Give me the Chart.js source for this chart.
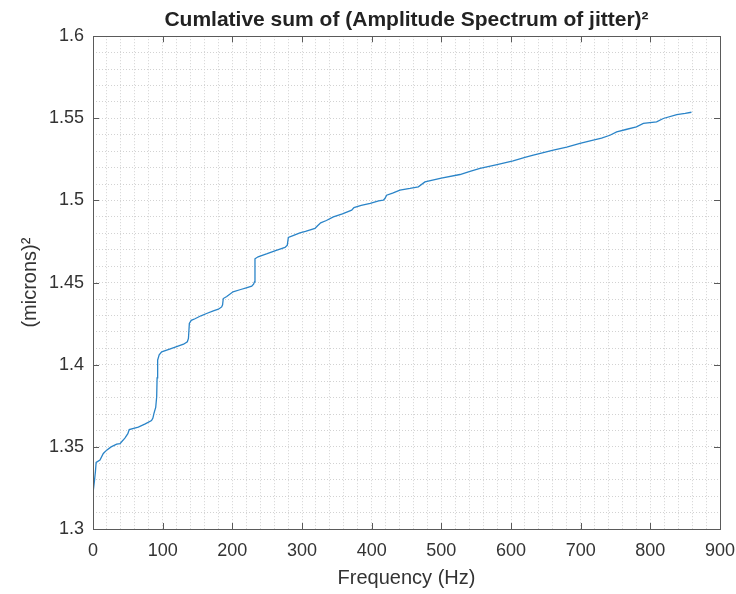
<!DOCTYPE html>
<html>
<head>
<meta charset="utf-8">
<script src="https://cdn.jsdelivr.net/npm/chart.js@4/dist/chart.umd.min.js"></script>
<style>
  html, body { margin: 0; padding: 0; background: #fff; }
  #chart { display: block; }
</style>
</head>
<body>
<canvas id="chart" width="736" height="594"></canvas>
<script>
// frequency (Hz) and cumulative sum values
const freqHz = [
  0, 2, 3.5, 4.5, 10, 14.8, 19.6, 26, 34, 38.8, 43, 46, 50, 52, 65, 75, 84, 86, 87.5, 90,
  91.4, 92, 92.8, 95, 98.6, 110, 120, 130, 135.4, 137, 138.3, 141, 146.4, 155, 163, 172.7, 180, 184.7, 186, 187,
  192, 201, 212, 220, 227.8, 230.5, 231.8, 232.5, 237, 250, 262, 275.6, 278.9, 280.4, 288, 297, 305, 318.6, 322, 326.8,
  335, 345, 358, 371.3, 374.6, 385, 398, 410, 416.7, 419, 421.5, 430, 440.6, 455, 467, 476.5, 500, 526.8, 540, 555.5,
  580, 603, 620, 632, 645, 660.7, 680, 699, 718, 730, 742, 751.7, 765, 780, 790, 809, 818.6, 838, 850, 859
];
const cumSum = [
  1.322, 1.329, 1.335, 1.3405, 1.342, 1.346, 1.348, 1.350, 1.3517, 1.352, 1.354, 1.3555, 1.358, 1.3605, 1.362, 1.364, 1.366, 1.3675, 1.3704, 1.374,
  1.3805, 1.392, 1.4028, 1.406, 1.4078, 1.4095, 1.411, 1.4125, 1.414, 1.416, 1.4251, 1.427, 1.428, 1.4298, 1.4312, 1.4328, 1.4338, 1.4352, 1.4365, 1.4403,
  1.4415, 1.4444, 1.4458, 1.4468, 1.4478, 1.449, 1.4505, 1.4645, 1.4657, 1.4676, 1.4695, 1.4714, 1.4728, 1.4775, 1.4788, 1.4803, 1.4812, 1.4830, 1.4845, 1.4864,
  1.4878, 1.4900, 1.4918, 1.4941, 1.4957, 1.4970, 1.4982, 1.4998, 1.5002, 1.5012, 1.5032, 1.5045, 1.5063, 1.5073, 1.5083, 1.5113, 1.5136, 1.5158, 1.5175, 1.5195,
  1.5218, 1.5241, 1.5262, 1.5276, 1.5290, 1.5306, 1.5325, 1.5347, 1.5367, 1.538, 1.5397, 1.5418, 1.5432, 1.5448, 1.5469, 1.5478, 1.5499, 1.5523, 1.5530, 1.5537
];

const xTickLabels = ['0', '100', '200', '300', '400', '500', '600', '700', '800', '900'];
const yTickLabels = ['1.3', '1.35', '1.4', '1.45', '1.5', '1.55', '1.6'];

const FONT = "'Liberation Sans', Arial, Helvetica, sans-serif";
const TEXT = '#333333';

// minor grid steps (every 20 Hz, every 0.01)
const xGrid = [];
for (let f = 0; f <= 900; f += 20) xGrid.push(f);
const yGrid = [];
for (let k = 130; k <= 160; k++) yGrid.push(k / 100);

function labelFor(list, v) {
  const hit = list.find(l => Math.abs(parseFloat(l) - v) < 1e-6);
  return hit === undefined ? '' : hit;
}

// box around the axes with inward major ticks, like the original
const boxPlugin = {
  id: 'axesBox',
  afterDatasetsDraw(chart) {
    const { ctx, chartArea: a, scales: { x, y } } = chart;
    const t = 6;
    ctx.save();
    ctx.strokeStyle = '#5a5a5a';
    ctx.lineWidth = 1;
    ctx.beginPath();
    xTickLabels.forEach(l => {
      const px = Math.round(x.getPixelForValue(parseFloat(l))) + 0.5;
      ctx.moveTo(px, a.bottom); ctx.lineTo(px, a.bottom - t);
      ctx.moveTo(px, a.top); ctx.lineTo(px, a.top + t);
    });
    yTickLabels.forEach(l => {
      const py = Math.round(y.getPixelForValue(parseFloat(l))) + 0.5;
      ctx.moveTo(a.left, py); ctx.lineTo(a.left + t, py);
      ctx.moveTo(a.right, py); ctx.lineTo(a.right - t, py);
    });
    ctx.stroke();
    ctx.strokeRect(Math.round(a.left) + 0.5, Math.round(a.top) + 0.5,
      Math.round(a.right - a.left), Math.round(a.bottom - a.top));
    ctx.restore();
  }
};

new Chart(document.getElementById('chart'), {
  type: 'line',
  data: {
    datasets: [{
      data: freqHz.map((f, i) => ({ x: f, y: cumSum[i] })),
      borderColor: '#2a84c8',
      borderWidth: 1.3,
      pointRadius: 0,
      tension: 0,
      fill: false
    }]
  },
  options: {
    responsive: false,
    animation: false,
    layout: { padding: { left: 0, right: 16, top: 0, bottom: 0 } },
    plugins: {
      legend: { display: false },
      tooltip: { enabled: false },
      title: {
        display: true,
        fullSize: false,
        text: 'Cumlative sum of (Amplitude Spectrum of jitter)²',
        color: '#222',
        font: { family: FONT, size: 21, weight: 'bold' },
        padding: { top: 8, bottom: 3 }
      }
    },
    scales: {
      x: {
        type: 'linear',
        min: 0, max: 900,
        afterBuildTicks: s => { s.ticks = xGrid.map(v => ({ value: v })); },
        afterFit: s => { s.height = 65; s.paddingLeft = 0; s.paddingRight = 0; },
        ticks: {
          autoSkip: false, maxRotation: 0, padding: 11,
          color: TEXT, font: { family: FONT, size: 18 },
          callback: v => labelFor(xTickLabels, v)
        },
        grid: { color: '#d2d2d2', lineWidth: 1, drawTicks: false },
        border: { display: false, dash: [1, 2] },
        title: {
          display: true, text: 'Frequency (Hz)', color: TEXT,
          font: { family: FONT, size: 20 }, padding: { top: 0, bottom: 4 }
        }
      },
      y: {
        type: 'linear',
        min: 1.3, max: 1.6,
        afterBuildTicks: s => { s.ticks = yGrid.map(v => ({ value: v })); },
        afterFit: s => { s.width = 93; },
        ticks: {
          autoSkip: false, padding: 9,
          color: TEXT, font: { family: FONT, size: 18 },
          callback: v => labelFor(yTickLabels, v)
        },
        grid: { color: '#d2d2d2', lineWidth: 1, drawTicks: false },
        border: { display: false, dash: [1, 2] },
        title: {
          display: true, text: '(microns)²', color: TEXT,
          font: { family: FONT, size: 20 }, padding: { top: 18, bottom: 0 }
        }
      }
    }
  },
  plugins: [boxPlugin]
});
</script>
</body>
</html>
